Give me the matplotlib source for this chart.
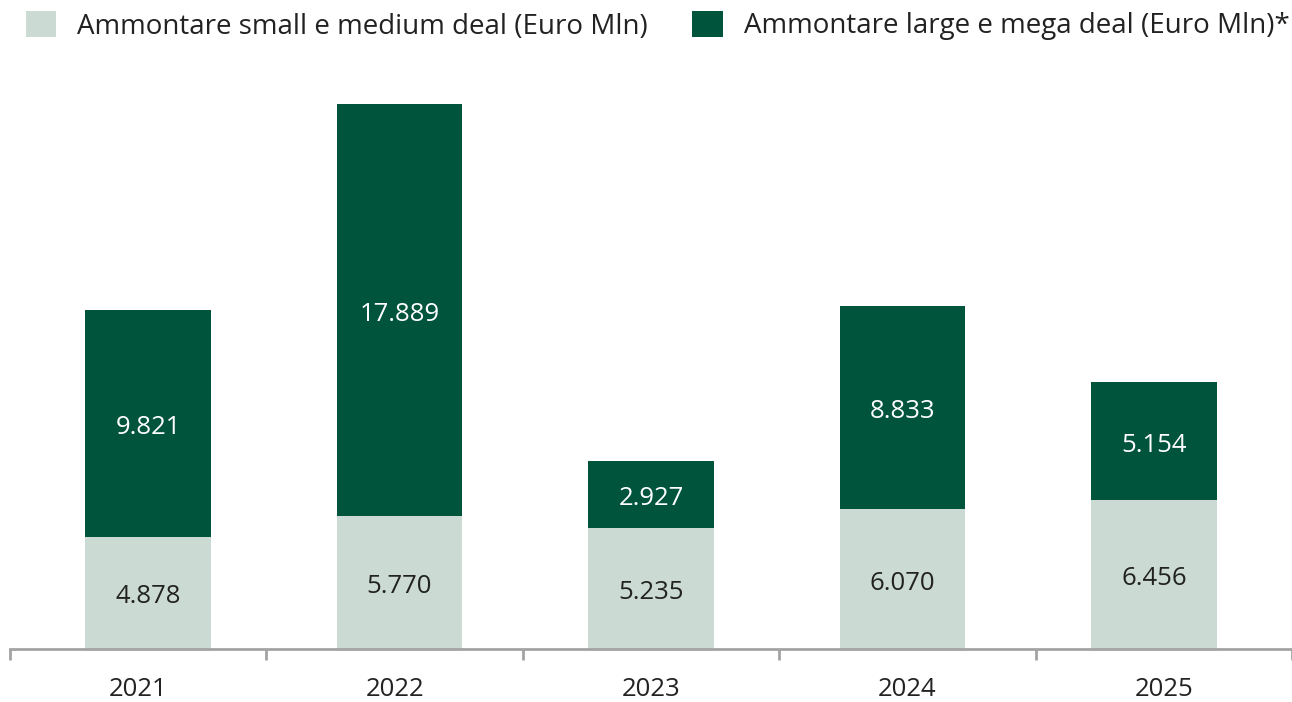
import matplotlib
matplotlib.use("Agg")
import matplotlib.pyplot as plt
from matplotlib.patches import Patch

years = ["2021", "2022", "2023", "2024", "2025"]
small_medium = [4878, 5770, 5235, 6070, 6456]
large_mega = [9821, 17889, 2927, 8833, 5154]
label_small = "Ammontare small e medium deal (Euro Mln)"
label_large = "Ammontare large e mega deal (Euro Mln)*"

LIGHT = "#cbdbd3"
DARK = "#00543c"
TEXT = "#222222"
AXIS = "#a3a3a3"

plt.rcParams['font.family'] = ['Open Sans', 'DejaVu Sans']

fig = plt.figure(figsize=(12.92, 7.02), dpi=100)
ax = fig.add_axes([10/1292, 1 - 649/702, 1 - 10/1292, (649 - 80)/702])

x = list(range(len(years)))
width = 0.50
ax.bar(x, small_medium, width, color=LIGHT, label=label_small)
ax.bar(x, large_mega, width, bottom=small_medium, color=DARK, label=label_large)

def fmt(v):
    return f"{v:,}".replace(",", ".")

FS_VAL = 18.5
FS_YEAR = 18.5
FS_LEG = 20
for xi, s, l in zip(x, small_medium, large_mega):
    ax.annotate(fmt(s), (xi, s / 2), xytext=(0, -3), textcoords="offset points",
                ha="center", va="center", color=TEXT, fontsize=FS_VAL)
    ax.annotate(fmt(l), (xi, s + l / 2), xytext=(0, -3), textcoords="offset points",
                ha="center", va="center", color="white", fontsize=FS_VAL)

x0, x1 = -0.549, 4.549
ax.set_xlim(x0, x1)
ax.set_ylim(0, 24700)
span = x1 - x0
n = len(years)
ax.set_xticks([x0 + (k + 0.5) * span / n for k in range(n)])
ax.set_xticklabels(years, fontsize=FS_YEAR, color=TEXT)
ax.set_xticks([x0 + k * span / n for k in range(n + 1)], minor=True)
ax.tick_params(axis="x", which="major", length=0, pad=20)
ax.tick_params(axis="x", which="minor", length=8, width=2, color=AXIS, direction="out")
ax.set_yticks([])
for side in ["left", "top", "right"]:
    ax.spines[side].set_visible(False)
ax.spines["bottom"].set_color(AXIS)
ax.spines["bottom"].set_linewidth(2)
ax.spines["bottom"].set_clip_on(False)

handles = [Patch(facecolor=LIGHT, label=label_small), Patch(facecolor=DARK, label=label_large)]
fig.legend(handles=handles, loc="upper left", bbox_to_anchor=(16/1292, 1 - 1/702),
           ncol=2, frameon=False, prop={"size": FS_LEG}, labelcolor=TEXT,
           handlelength=1.1, handleheight=1.1, handletextpad=0.75, columnspacing=1.6,
           borderaxespad=0, borderpad=0.35)

fig.savefig("out.png", dpi=100)
